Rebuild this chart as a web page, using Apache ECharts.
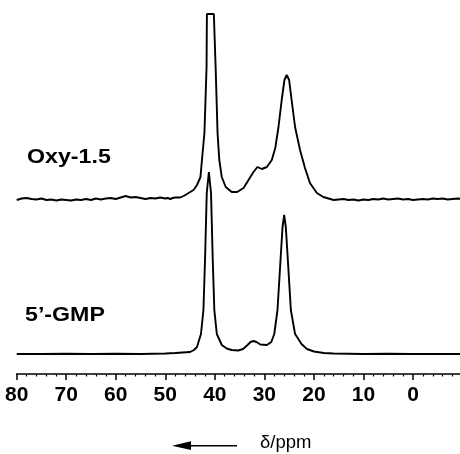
<!DOCTYPE html>
<html>
<head>
<meta charset="utf-8">
<script src="https://cdn.jsdelivr.net/npm/echarts@6/dist/echarts.min.js"></script>
<style>html,body{margin:0;padding:0;background:#fff;}#c{width:460px;height:454px;}</style>
</head>
<body>
<div id="c"></div>
<script>
// chemical shift (ppm) vs intensity (arbitrary units)
const oxyName = 'Oxy-1.5';
const gmpName = '5\u2019-GMP';
const oxyData = [
  [80,-1],[79,0.5],[78,1],[77,0],[76,-0.5],[75,0.5],[74,-1],[73,-0.5],[72,-1.5],[71,-0.5],
  [70,-1],[69,-1.5],[68,-0.5],[67,-1],[66,0],[65,-1],[64,0.5],[63,-0.5],[62,0.5],[61,1],
  [60,0],[59,1.5],[58,3],[57,1.5],[56,2],[55,1],[54,0],[53,1],[52,0.5],[51,1.5],[50,0.5],
  [49.5,1],[49,0],[48.5,1],[48,1.5],[47,1.5],[46.3,3],[45.3,6],[44.3,9],[43.6,14],[42.9,22],
  [42.6,39],[42.1,66],[41.67,132],[41.6,185],[40.9,185],[40.2,185],[39.84,132],[39.45,66],
  [39.1,39],[38.6,22],[37.8,12],[36.6,7],[35.5,7],[34.2,11],[33.2,19],[32.2,27],[31.4,32],
  [30.5,30],[29.5,32],[28.5,39],[27.8,51],[27.15,72],[26.5,99],[25.95,119],[25.5,124],
  [25.0,119],[24.5,99],[23.8,72],[22.8,49],[21.8,31],[20.8,16],[19.4,6],[18.1,2],[16.7,0],
  [16,-1],[15,-0.5],[14,0],[13,-1],[12,-0.5],[11,-1.5],[10,-0.5],[9,-1],[8,0],[7,-0.5],
  [6,0.5],[5,-0.5],[4,0],[3,0.5],[2,-0.5],[1,0],[0,-1],[-1,-0.5],[-2,0],[-3,-0.5],
  [-4,0.5],[-5,0],[-6,0.5],[-7,-0.5],[-8,0],[-9,0.5],[-10,0]
];
const gmpData = [
  [80,0],[75,0],[70,0.3],[65,0],[60,0.3],[55,0],[50,0.5],[48,1],[46.5,1.5],[45,2],
  [44.2,4],[43.6,7],[42.8,20],[42.3,44],[41.98,94],[41.63,161],[41.2,182],[40.77,161],
  [40.42,94],[40.1,44],[39.6,20],[38.6,9],[37.6,5.5],[36.6,4],[35.3,3.5],[34.3,5],
  [33.4,9],[32.8,12],[32.2,13],[31.6,12],[30.8,9.5],[29.5,9],[28.6,12],[28.0,20],
  [27.35,44],[26.74,94],[26.33,127],[26.0,139],[25.67,127],[25.26,94],[24.65,44],
  [23.8,20],[23.4,17],[22.5,10],[21.4,5],[20,2.5],[18,1],[16,0.5],[10,0],[5,0.2],
  [0,0],[-5,0],[-10,0]
];
const xTicks = { min: -10, max: 80, interval: 10 };
const oxyOffset = 155;      // vertical stacking offset of the upper trace
const axisTitle = '\u03B4/ppm';

const chart = echarts.init(document.getElementById('c'), null, { renderer: 'canvas' });
const lineStyle = { color: '#000', width: 1.9 };
chart.setOption({
  animation: false,
  backgroundColor: '#fff',
  grid: { left: 16.7, width: 445.8, top: 14, bottom: 80, containLabel: false, outerBoundsMode: 'none' },
  xAxis: {
    type: 'value', inverse: true,
    min: xTicks.min, max: xTicks.max, interval: xTicks.interval,
    splitLine: { show: false },
    axisLine: { show: true, onZero: false, lineStyle: { color: '#000', width: 1.5 } },
    axisTick: { show: true, length: 6, lineStyle: { color: '#000', width: 1.5 } },
    minorTick: { show: true, splitNumber: 5, length: 2.5, lineStyle: { color: '#000', width: 1.2 } },
    axisLabel: {
      margin: 11, color: '#000', fontFamily: 'Liberation Sans, Arial', fontWeight: 'bold', fontSize: 21,
      formatter: v => (v < 0 ? '' : String(v))
    }
  },
  yAxis: { type: 'value', min: -20, max: 340, show: false, splitLine: { show: false } },
  series: [
    { name: oxyName, type: 'line', showSymbol: false, clip: true, lineStyle,
      data: oxyData.map(p => [p[0], p[1] + oxyOffset]) },
    { name: gmpName, type: 'line', showSymbol: false, clip: true, lineStyle,
      data: gmpData }
  ],
  graphic: [
    { type: 'text', x: 27, y: 157, scaleX: 1.16,
      style: { x: 0, y: 0, text: oxyName, fill: '#000', font: 'bold 20px "Liberation Sans", Arial', align: 'left', verticalAlign: 'middle' } },
    { type: 'text', x: 25, y: 315.5, scaleX: 1.16,
      style: { x: 0, y: 0, text: gmpName, fill: '#000', font: 'bold 20px "Liberation Sans", Arial', align: 'left', verticalAlign: 'middle' } },
    { type: 'line', shape: { x1: 189, y1: 445.7, x2: 237, y2: 445.7 }, style: { stroke: '#000', lineWidth: 1.6 } },
    { type: 'polygon', shape: { points: [[172, 445.7], [191, 441.3], [191, 450.1]] }, style: { fill: '#000' } },
    { type: 'text', x: 260, y: 443,
      style: { text: axisTitle, fill: '#000', font: '18.5px "Liberation Sans", Arial', align: 'left', verticalAlign: 'middle' } }
  ]
});
</script>
</body>
</html>
